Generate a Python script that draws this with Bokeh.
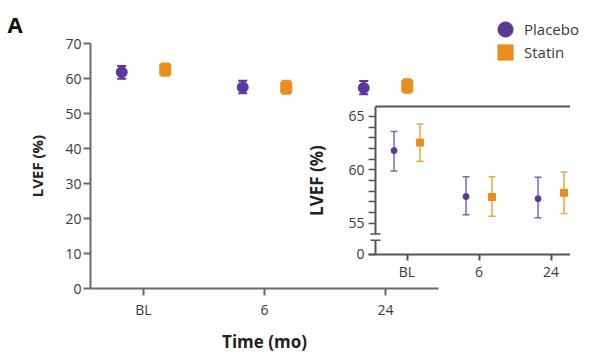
from bokeh.plotting import figure
from bokeh.models import (ColumnDataSource, Whisker, Legend, LegendItem, FixedTicker,
                          TeeHead, LinearAxis)
from bokeh.layouts import column
from bokeh.embed import file_html
from bokeh.resources import INLINE

# ---------------- data ----------------
times = ["BL", "6", "24"]
placebo_mean = [61.8, 57.5, 57.3]
placebo_lo = [59.9, 55.8, 55.5]
placebo_hi = [63.6, 59.35, 59.3]
statin_mean = [62.55, 57.45, 57.85]
statin_lo = [60.8, 55.65, 55.9]
statin_hi = [64.3, 59.35, 59.8]
main_yticks = [0, 10, 20, 30, 40, 50, 60, 70]
inset_major = [55, 60, 65]
inset_minor = [56, 57, 58, 59, 61, 62, 63, 64]

FONT = "Open Sans"
PURPLE = "#59399a"
PURPLE_L = "#7d66c2"
ORANGE = "#e98e1e"
ORANGE_L = "#f0a545"
AXIS = "#6a6a6a"
TXT = "#3a3a3a"

xs = list(range(len(times)))
OFF = 0.18
overrides = {i: t for i, t in enumerate(times)}


def make_src(mean, lo, hi, off):
    return ColumnDataSource(dict(x=[i + off for i in xs], y=mean, lo=lo, hi=hi))


# ---------------- main chart ----------------
x_lo, x_hi = -0.438, 2.438
p = figure(frame_width=348, frame_height=245, x_range=(x_lo, x_hi), y_range=(0, 70),
           output_backend="svg", toolbar_location=None,
           min_border_left=90, min_border_right=150, min_border_top=43, min_border_bottom=66)
p.grid.visible = False
p.outline_line_color = None
p.background_fill_color = "white"
p.border_fill_color = "white"

p.title.text = "A"
p.title.align = "left"
p.title.offset = -83
p.title.standoff = 10
p.title.text_font = FONT
p.title.text_font_size = "22px"
p.title.text_font_style = "bold"
p.title.text_color = "#111111"

for ax in (p.xaxis[0], p.yaxis[0]):
    ax.axis_line_color = AXIS
    ax.axis_line_width = 2
    ax.major_tick_line_color = AXIS
    ax.major_tick_line_width = 2
    ax.major_tick_out = 7
    ax.major_tick_in = 0
    ax.minor_tick_line_color = None
    ax.major_label_text_font = FONT
    ax.major_label_text_font_size = "14px"
    ax.major_label_text_color = TXT
    ax.axis_label_text_font = FONT
    ax.axis_label_text_font_style = "bold"
    ax.axis_label_text_color = "#222222"

p.xaxis.ticker = FixedTicker(ticks=xs)
p.xaxis.major_label_overrides = overrides
p.xaxis.axis_label = "Time (mo)"
p.xaxis.axis_label_text_font_size = "17px"
p.xaxis.major_label_standoff = 4
p.xaxis.axis_label_standoff = 8

p.yaxis.ticker = FixedTicker(ticks=main_yticks)
p.yaxis.axis_label = "LVEF (%)"
p.yaxis.axis_label_text_font_size = "15px"
p.yaxis.major_label_standoff = 2
p.yaxis.axis_label_standoff = 15

ps = make_src(placebo_mean, placebo_lo, placebo_hi, -OFF)
ss = make_src(statin_mean, statin_lo, statin_hi, OFF)

for s, c in ((ps, PURPLE), (ss, ORANGE)):
    p.add_layout(Whisker(source=s, base="x", upper="hi", lower="lo", line_color=c, line_width=2,
                         upper_head=TeeHead(size=9, line_color=c, line_width=2),
                         lower_head=TeeHead(size=9, line_color=c, line_width=2)))
p.scatter("x", "y", source=ps, marker="circle", size=11, color=PURPLE)
p.scatter("x", "y", source=ss, marker="square", size=11, color=ORANGE)

# ---------------- inset ----------------
ax_x = -0.4375            # data x of the inset's left axis line
ix_lo = ax_x - 7 / 72.0
ix_hi = ix_lo + 215 / 72.0
iy_lo, iy_hi = 52.07, 65.93
zero_pos = 52.08
brk_lo, brk_hi = 53.4, 54.0

q = figure(frame_width=215, frame_height=148, x_range=(ix_lo, ix_hi), y_range=(iy_lo, iy_hi),
           output_backend="svg", toolbar_location=None,
           min_border_left=71, min_border_right=6, min_border_top=10, min_border_bottom=30)
q.grid.visible = False
q.outline_line_color = None
q.background_fill_color = "white"
q.border_fill_color = "white"
q.styles = {"position": "absolute", "left": "278px", "top": "96px"}

IAX = "#555555"
xa = q.xaxis[0]
xa.ticker = FixedTicker(ticks=xs)
xa.major_label_overrides = overrides
xa.axis_line_color = IAX
xa.axis_line_width = 2
xa.major_tick_line_color = IAX
xa.major_tick_line_width = 2
xa.major_tick_out = 6
xa.major_tick_in = 0
xa.minor_tick_line_color = None
xa.major_label_text_font = FONT
xa.major_label_text_font_size = "14px"
xa.major_label_text_color = TXT
xa.major_label_standoff = 1

ya = q.yaxis[0]
ya.ticker = FixedTicker(ticks=[zero_pos] + inset_major, minor_ticks=inset_minor)
ya.major_label_overrides = {zero_pos: "0"}
ya.axis_line_color = None
ya.major_tick_line_color = IAX
ya.major_tick_line_width = 1.5
ya.major_tick_in = 7
ya.major_tick_out = 0
ya.minor_tick_line_color = IAX
ya.minor_tick_line_width = 1.5
ya.minor_tick_in = 7
ya.minor_tick_out = 0
ya.major_label_text_font = FONT
ya.major_label_text_font_size = "14px"
ya.major_label_text_color = TXT
ya.major_label_standoff = 4
ya.axis_label = "LVEF (%)"
ya.axis_label_text_font = FONT
ya.axis_label_text_font_size = "17px"
ya.axis_label_text_font_style = "bold"
ya.axis_label_text_color = "#222222"
ya.axis_label_standoff = 17

top_ax = LinearAxis(bounds=(ax_x, ix_hi), ticker=FixedTicker(ticks=[]),
                    major_label_text_font_size="0px", axis_line_color=IAX, axis_line_width=2,
                    major_tick_line_color=None, minor_tick_line_color=None)
right_ax = LinearAxis(ticker=FixedTicker(ticks=[]),
                      major_label_text_font_size="0px", axis_line_color=IAX, axis_line_width=2,
                      major_tick_line_color=None, minor_tick_line_color=None)
q.add_layout(top_ax, "above")
q.add_layout(right_ax, "right")

# broken left axis line with caps
q.segment(x0=[ax_x, ax_x], y0=[iy_lo, brk_hi], x1=[ax_x, ax_x], y1=[brk_lo, iy_hi],
          line_color=IAX, line_width=2)
cap = 5 / 72.0
q.segment(x0=[ax_x - cap, ax_x - cap], y0=[brk_lo, brk_hi], x1=[ax_x + cap, ax_x + cap],
          y1=[brk_lo, brk_hi], line_color=IAX, line_width=1.5)

qps = make_src(placebo_mean, placebo_lo, placebo_hi, -OFF)
qss = make_src(statin_mean, statin_lo, statin_hi, OFF)
for s, c in ((qps, PURPLE_L), (qss, ORANGE_L)):
    q.add_layout(Whisker(source=s, base="x", upper="hi", lower="lo", line_color=c, line_width=1.5,
                         upper_head=TeeHead(size=7, line_color=c, line_width=1.5),
                         lower_head=TeeHead(size=7, line_color=c, line_width=1.5)))
q.scatter("x", "y", source=qps, marker="circle", size=6, color=PURPLE)
q.scatter("x", "y", source=qss, marker="square", size=7, color=ORANGE)

# ---------------- overlay strip: legend ----------------
ov = figure(frame_width=600, frame_height=72, x_range=(0, 600), y_range=(72, 0),
            x_axis_location=None, y_axis_location=None,
            output_backend="svg", toolbar_location=None,
            min_border_left=0, min_border_right=0, min_border_top=0, min_border_bottom=0)
ov.grid.visible = False
ov.outline_line_color = None
ov.background_fill_alpha = 0
ov.border_fill_alpha = 0
ov.styles = {"position": "absolute", "left": "0px", "top": "0px"}

# legend-only renderers (hidden), one legend per row for exact row placement
lr1 = ov.scatter("x", "y", source=ps, marker="circle", color=PURPLE, visible=False)
lr2 = ov.scatter("x", "y", source=ss, marker="square", color=ORANGE, visible=False)
for lab, r, ypos in (("Placebo", lr1, 24), ("Statin", lr2, 1)):
    lg = Legend(items=[LegendItem(label=lab, renderers=[r])], location=(482, ypos))
    lg.glyph_width = 38
    lg.glyph_height = 38
    lg.padding = 0
    lg.margin = 0
    lg.label_standoff = -2
    lg.border_line_color = None
    lg.background_fill_alpha = 0
    lg.inactive_fill_alpha = 0
    lg.label_text_font = FONT
    lg.label_text_font_size = "15px"
    lg.label_text_color = TXT
    ov.add_layout(lg)

layout = column(p, q, ov)
open("out.html", "w").write(file_html(layout, INLINE))
